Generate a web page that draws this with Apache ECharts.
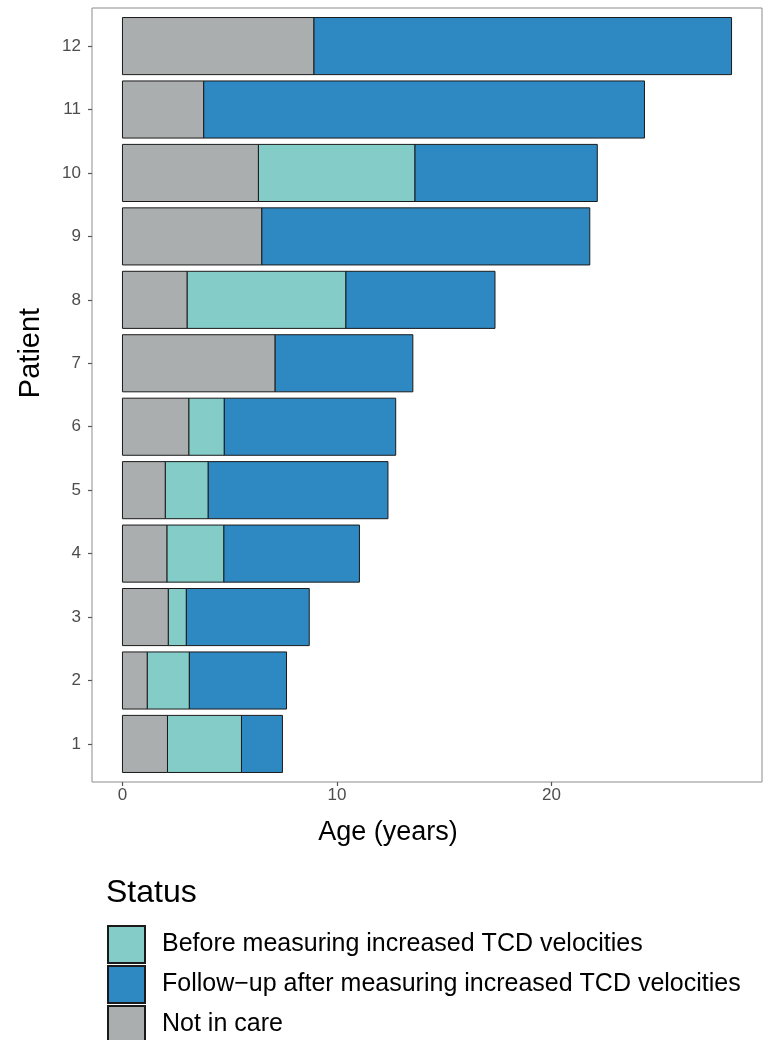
<!DOCTYPE html>
<html>
<head>
<meta charset="utf-8">
<script src="https://cdn.jsdelivr.net/npm/echarts@6/dist/echarts.min.js"></script>
<style>
html,body{margin:0;padding:0;background:#fff;}
#chart{width:766px;height:1040px;}
</style>
</head>
<body>
<div id="chart"></div>
<script>
// Data (years)
const patients = [1, 2, 3, 4, 5, 6, 7, 8, 9, 10, 11, 12];
const notInCare = [2.10, 1.16, 2.14, 2.08, 2.00, 3.10, 7.12, 3.02, 6.50, 6.34, 3.79, 8.93];
const beforeTCD = [3.45, 1.96, 0.84, 2.65, 2.00, 1.65, 0, 7.40, 0, 7.30, 0, 0];
const followUpTCD = [1.91, 4.53, 5.73, 6.32, 8.38, 7.99, 6.42, 6.95, 15.29, 8.50, 20.55, 19.47];
const xTicks = [0, 10, 20];
const statusNames = ['Before measuring increased TCD velocities', 'Follow\u2212up after measuring increased TCD velocities', 'Not in care'];
const statusColors = ['#84ccc8', '#2e88c1', '#abaeaf'];

// Build segments
const segNot = [], segBefore = [], segFollow = [];
patients.forEach((p, i) => {
  const a = notInCare[i], b = a + beforeTCD[i], c = b + followUpTCD[i];
  segNot.push([p, 0, a]);
  if (beforeTCD[i] > 0) segBefore.push([p, a, b]);
  segFollow.push([p, b, c]);
});
const maxX = Math.max(...segFollow.map(d => d[2]));
const pad = maxX * 0.05;

function makeRender(color) {
  return function (params, api) {
    const y = api.value(0), s = api.value(1), e = api.value(2);
    const p0 = api.coord([s, y + 0.45]);
    const p1 = api.coord([e, y - 0.45]);
    return {
      type: 'rect',
      shape: { x: p0[0], y: p0[1], width: p1[0] - p0[0], height: p1[1] - p0[1] },
      style: { fill: color, stroke: '#1a1a1a', lineWidth: 1 }
    };
  };
}

const chart = echarts.init(document.getElementById('chart'), null, { renderer: 'canvas' });
const font = '"Liberation Sans", Arial, Helvetica, sans-serif';
chart.setOption({
  animation: false,
  textStyle: { fontFamily: font },
  title: {
    text: 'Status', left: 106, top: 877, padding: 0,
    textStyle: { fontFamily: font, fontSize: 32, fontWeight: 'normal', color: '#000' }
  },
  legend: {
    orient: 'vertical', left: 107, top: 925, height: 130, padding: 0,
    itemWidth: 37, itemHeight: 37, itemGap: 1,
    icon: 'rect',
    data: statusNames,
    textStyle: { fontFamily: font, fontSize: 25, color: '#000', padding: [0, 0, 0, 12] },
    selectedMode: false
  },
  grid: {
    left: 92, right: 4, top: 8, bottom: 258,
    show: true, borderColor: '#8c8c8c', borderWidth: 1, backgroundColor: '#fff'
  },
  xAxis: {
    type: 'value', min: -pad, max: maxX + pad,
    name: 'Age (years)', nameLocation: 'middle', nameGap: 37,
    nameTextStyle: { fontFamily: font, fontSize: 27, color: '#000', padding: [0, 78, 0, 0] },
    axisLine: { show: false, onZero: false },
    splitLine: { show: false },
    axisTick: { show: true, length: 4, customValues: xTicks, lineStyle: { color: '#555', width: 1.2 } },
    axisLabel: { customValues: xTicks, fontSize: 17, color: '#4d4d4d', margin: 5, fontFamily: font }
  },
  yAxis: {
    type: 'value', min: 0.4, max: 12.6,
    name: 'Patient', nameLocation: 'middle', nameGap: 47, nameRotate: 90,
    nameTextStyle: { fontFamily: font, fontSize: 29, color: '#000', padding: [0, 0, 0, 84] },
    axisLine: { show: false, onZero: false },
    splitLine: { show: false },
    axisTick: { show: true, length: 4, customValues: patients, lineStyle: { color: '#555', width: 1.2 } },
    axisLabel: { customValues: patients, fontSize: 17, color: '#4d4d4d', margin: 11, fontFamily: font }
  },
  series: [
    { type: 'custom', name: statusNames[2], renderItem: makeRender(statusColors[2]), data: segNot,
      encode: { x: [1, 2], y: 0 }, itemStyle: { color: statusColors[2], borderColor: '#1a1a1a', borderWidth: 1.5 } },
    { type: 'custom', name: statusNames[0], renderItem: makeRender(statusColors[0]), data: segBefore,
      encode: { x: [1, 2], y: 0 }, itemStyle: { color: statusColors[0], borderColor: '#1a1a1a', borderWidth: 1.5 } },
    { type: 'custom', name: statusNames[1], renderItem: makeRender(statusColors[1]), data: segFollow,
      encode: { x: [1, 2], y: 0 }, itemStyle: { color: statusColors[1], borderColor: '#1a1a1a', borderWidth: 1.5 } }
  ]
});
</script>
</body>
</html>
